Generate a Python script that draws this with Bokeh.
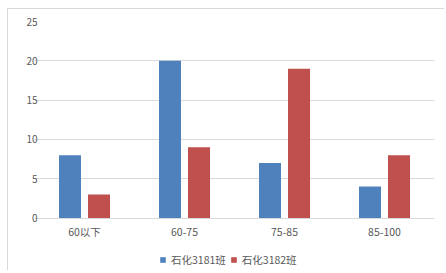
from bokeh.plotting import figure
from bokeh.models import FactorRange, Range1d, FixedTicker, Legend, LegendItem, ColumnDataSource
from bokeh.transform import dodge
from bokeh.embed import file_html
from bokeh.resources import INLINE

categories = ["60以下", "60-75", "75-85", "85-100"]
series_names = ["石化3181班", "石化3182班"]
class1 = [8, 20, 7, 4]
class2 = [3, 9, 19, 8]
y_ticks = [0, 5, 10, 15, 20, 25]

colors = ["#4F81BD", "#C0504D"]
FONT = "Noto Sans CJK SC"
TXT = "#595959"
GRID = "#D9D9D9"

src = ColumnDataSource(dict(cat=categories, s1=class1, s2=class2))

p = figure(x_range=FactorRange(*categories, range_padding=0), y_range=Range1d(-6.8, 25),
           width=437, height=262, output_backend="svg", toolbar_location=None,
           min_border_left=26, min_border_right=11, min_border_top=12, min_border_bottom=0)
p.styles = {"margin-left": "7px", "margin-top": "8px",
            "border-left": "1px solid #D9D9D9", "border-top": "1px solid #D9D9D9"}
p.outline_line_color = None
p.background_fill_color = "white"
p.border_fill_color = "white"

r1 = p.vbar(x=dodge("cat", -0.145, range=p.x_range), top="s1", width=0.22, source=src,
            fill_color=colors[0], line_color=None)
r2 = p.vbar(x=dodge("cat", 0.145, range=p.x_range), top="s2", width=0.22, source=src,
            fill_color=colors[1], line_color=None)

p.xgrid.grid_line_color = None
p.ygrid.grid_line_color = GRID
p.ygrid.grid_line_width = 1

p.yaxis.ticker = FixedTicker(ticks=y_ticks)
p.yaxis.axis_line_color = None
p.yaxis.major_tick_line_color = None
p.yaxis.minor_tick_line_color = None
p.yaxis.major_tick_out = 0
p.yaxis.major_tick_in = 0
p.yaxis.major_label_standoff = -3
p.yaxis.major_label_text_font = FONT
p.yaxis.major_label_text_font_size = "10px"
p.yaxis.major_label_text_color = TXT

p.xaxis.fixed_location = 0
p.xaxis.axis_line_color = GRID
p.xaxis.major_tick_line_color = None
p.xaxis.minor_tick_line_color = None
p.xaxis.major_label_standoff = 0
p.xaxis.major_label_text_font = FONT
p.xaxis.major_label_text_font_size = "10.5px"
p.xaxis.major_label_text_color = TXT

legend = Legend(items=[LegendItem(label=series_names[0], renderers=[r1]),
                       LegendItem(label=series_names[1], renderers=[r2])],
                orientation="horizontal", location=(125, 4),
                glyph_width=7, glyph_height=7, label_standoff=5, spacing=4,
                padding=0, margin=0, border_line_color=None, background_fill_alpha=0,
                label_text_font=FONT, label_text_font_size="10.5px", label_text_color=TXT)
p.add_layout(legend, "center")

open("out.html", "w").write(file_html(p, INLINE))
